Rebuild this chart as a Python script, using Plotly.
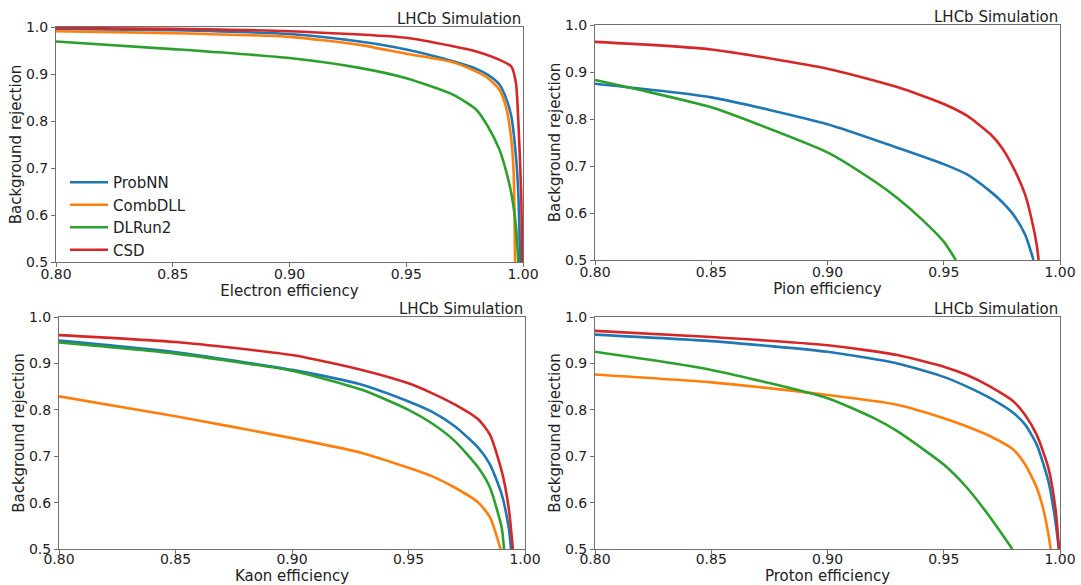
import plotly.graph_objects as go

# ---------------- data ----------------
series_names = ["ProbNN", "CombDLL", "DLRun2", "CSD"]
series_colors = ["#1f77b4", "#ff7f0e", "#2ca02c", "#d62728"]
panel_xlabels = ["Electron efficiency", "Pion efficiency", "Kaon efficiency", "Proton efficiency"]
x_ticks = [0.80, 0.85, 0.90, 0.95, 1.00]
y_ticks = [0.5, 0.6, 0.7, 0.8, 0.9, 1.0]

# Electron
el_probnn_x = [0.80, 0.85, 0.90, 0.93, 0.95, 0.97, 0.98, 0.985, 0.99, 0.993, 0.995, 0.997, 0.998, 0.9988]
el_probnn_y = [0.996, 0.993, 0.985, 0.969, 0.952, 0.927, 0.911, 0.898, 0.877, 0.845, 0.81, 0.724, 0.646, 0.50]
el_comb_x = [0.80, 0.85, 0.90, 0.93, 0.95, 0.97, 0.98, 0.985, 0.99, 0.993, 0.995, 0.996, 0.9966]
el_comb_y = [0.991, 0.987, 0.979, 0.962, 0.943, 0.925, 0.905, 0.891, 0.866, 0.824, 0.76, 0.69, 0.50]
el_dl_x = [0.80, 0.85, 0.90, 0.93, 0.95, 0.97, 0.98, 0.985, 0.99, 0.993, 0.995, 0.997, 0.998]
el_dl_y = [0.969, 0.953, 0.934, 0.913, 0.891, 0.856, 0.824, 0.788, 0.738, 0.689, 0.646, 0.575, 0.50]
el_csd_x = [0.80, 0.85, 0.90, 0.95, 0.97, 0.98, 0.99, 0.995, 0.997, 0.998, 0.9992, 0.9997]
el_csd_y = [0.998, 0.996, 0.991, 0.977, 0.959, 0.948, 0.93, 0.916, 0.88, 0.80, 0.65, 0.50]

# Pion (no CombDLL)
pi_probnn_x = [0.80, 0.85, 0.90, 0.93, 0.95, 0.96, 0.97, 0.975, 0.98, 0.985, 0.9886]
pi_probnn_y = [0.875, 0.846, 0.789, 0.739, 0.704, 0.682, 0.646, 0.624, 0.596, 0.554, 0.50]
pi_dl_x = [0.80, 0.82, 0.85, 0.87, 0.90, 0.92, 0.93, 0.94, 0.95, 0.9552]
pi_dl_y = [0.883, 0.861, 0.825, 0.789, 0.729, 0.668, 0.632, 0.589, 0.539, 0.50]
pi_csd_x = [0.80, 0.85, 0.90, 0.93, 0.95, 0.96, 0.97, 0.975, 0.98, 0.985, 0.988, 0.99, 0.9908]
pi_csd_y = [0.964, 0.948, 0.907, 0.868, 0.832, 0.807, 0.768, 0.739, 0.696, 0.639, 0.582, 0.532, 0.50]

# Kaon
ka_probnn_x = [0.80, 0.85, 0.90, 0.93, 0.95, 0.96, 0.97, 0.98, 0.985, 0.99, 0.993, 0.994]
ka_probnn_y = [0.949, 0.924, 0.886, 0.854, 0.818, 0.796, 0.764, 0.718, 0.682, 0.618, 0.546, 0.50]
ka_comb_x = [0.80, 0.85, 0.90, 0.93, 0.95, 0.96, 0.97, 0.98, 0.985, 0.9895]
ka_comb_y = [0.829, 0.786, 0.739, 0.707, 0.675, 0.657, 0.632, 0.600, 0.568, 0.50]
ka_dl_x = [0.80, 0.85, 0.90, 0.93, 0.95, 0.96, 0.97, 0.98, 0.985, 0.99, 0.991]
ka_dl_y = [0.945, 0.921, 0.884, 0.843, 0.800, 0.771, 0.732, 0.675, 0.632, 0.546, 0.50]
ka_csd_x = [0.80, 0.85, 0.90, 0.93, 0.95, 0.96, 0.97, 0.98, 0.985, 0.99, 0.993, 0.9948]
ka_csd_y = [0.961, 0.946, 0.918, 0.886, 0.857, 0.836, 0.811, 0.779, 0.746, 0.668, 0.589, 0.50]

# Proton
pr_probnn_x = [0.80, 0.85, 0.90, 0.93, 0.95, 0.96, 0.97, 0.98, 0.985, 0.99, 0.995, 0.998, 0.9995]
pr_probnn_y = [0.962, 0.948, 0.925, 0.900, 0.871, 0.850, 0.825, 0.793, 0.768, 0.725, 0.646, 0.561, 0.50]
pr_comb_x = [0.80, 0.85, 0.90, 0.93, 0.95, 0.96, 0.97, 0.98, 0.985, 0.99, 0.993, 0.995, 0.996]
pr_comb_y = [0.876, 0.859, 0.832, 0.811, 0.782, 0.764, 0.743, 0.714, 0.682, 0.632, 0.582, 0.532, 0.50]
pr_dl_x = [0.80, 0.85, 0.90, 0.92, 0.93, 0.95, 0.96, 0.97, 0.9795]
pr_dl_y = [0.925, 0.886, 0.825, 0.782, 0.754, 0.682, 0.632, 0.568, 0.50]
pr_csd_x = [0.80, 0.85, 0.90, 0.93, 0.95, 0.96, 0.97, 0.98, 0.985, 0.99, 0.995, 0.998, 0.9996]
pr_csd_y = [0.970, 0.957, 0.939, 0.918, 0.893, 0.875, 0.850, 0.818, 0.789, 0.746, 0.675, 0.589, 0.50]

panels = [
    {"ProbNN": (el_probnn_x, el_probnn_y), "CombDLL": (el_comb_x, el_comb_y),
     "DLRun2": (el_dl_x, el_dl_y), "CSD": (el_csd_x, el_csd_y)},
    {"ProbNN": (pi_probnn_x, pi_probnn_y),
     "DLRun2": (pi_dl_x, pi_dl_y), "CSD": (pi_csd_x, pi_csd_y)},
    {"ProbNN": (ka_probnn_x, ka_probnn_y), "CombDLL": (ka_comb_x, ka_comb_y),
     "DLRun2": (ka_dl_x, ka_dl_y), "CSD": (ka_csd_x, ka_csd_y)},
    {"ProbNN": (pr_probnn_x, pr_probnn_y), "CombDLL": (pr_comb_x, pr_comb_y),
     "DLRun2": (pr_dl_x, pr_dl_y), "CSD": (pr_csd_x, pr_csd_y)},
]

# ---------------- figure ----------------
W, H = 1081, 585
FONT = "DejaVu Sans"
TXT = "#222222"
SPINE = "#707070"

# pixel boxes of the four plot areas: (left, right, top, bottom)
boxes = [(56, 523, 27, 262), (595, 1060, 25, 260), (59, 525, 317, 549), (595, 1060, 317, 549)]

fig = go.Figure()
layout = dict(
    width=W, height=H, margin=dict(l=0, r=0, t=0, b=0, autoexpand=False),
    paper_bgcolor="white", plot_bgcolor="white",
    font=dict(family=FONT, color=TXT, size=14),
    showlegend=True,
    legend=dict(x=65 / W, y=1 - 166 / H, xanchor="left", yanchor="top",
                bgcolor="rgba(255,255,255,0)", borderwidth=0,
                font=dict(size=15, family=FONT, color=TXT),
                itemwidth=38, traceorder="grouped", tracegroupgap=0),
    annotations=[],
)

for i, (panel, box) in enumerate(zip(panels, boxes)):
    k = "" if i == 0 else str(i + 1)
    l, r, t, b = box
    for name, color in zip(series_names, series_colors):
        if name not in panel:
            continue
        xs, ys = panel[name]
        fig.add_trace(go.Scatter(
            x=xs, y=ys, mode="lines", name=name,
            line=dict(color=color, width=2.6, shape="spline", smoothing=0.6),
            xaxis="x" + k, yaxis="y" + k,
            legendgroup=name, showlegend=(i == 0),
        ))
    axis_common = dict(showgrid=False, zeroline=False, showline=True, mirror=True,
                       linecolor=SPINE, linewidth=1, ticks="outside", ticklen=4,
                       tickwidth=1, tickcolor=SPINE, automargin=False,
                       tickfont=dict(size=14, family=FONT, color=TXT))
    layout["xaxis" + k] = dict(
        axis_common, domain=[l / W, r / W], range=[0.80, 1.00],
        tickvals=x_ticks, tickformat=".2f", anchor="y" + k,
        ticklabelstandoff=(-5 if i < 2 else -7),
        title=dict(text=panel_xlabels[i], standoff=(0 if i < 2 else 3),
                   font=dict(size=15, family=FONT, color=TXT)),
    )
    layout["yaxis" + k] = dict(
        axis_common, domain=[1 - b / H, 1 - t / H], range=[0.5, 1.0],
        tickvals=y_ticks, tickformat=".1f", anchor="x" + k,
        title=dict(text="Background rejection", standoff=0, font=dict(size=15, family=FONT, color=TXT)),
    )
    layout["annotations"].append(dict(
        text="LHCb Simulation", xref="x" + k + " domain", yref="y" + k + " domain",
        x=1, y=1, xanchor="right", yanchor="bottom", showarrow=False, yshift=-3,
        font=dict(size=15, family=FONT, color=TXT),
    ))

fig.update_layout(**layout)
fig.write_html("out.html", config={"displayModeBar": False},
               post_script="document.body.style.margin='0';")
